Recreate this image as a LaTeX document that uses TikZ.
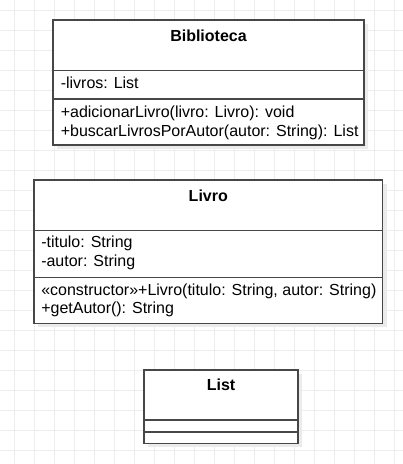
\documentclass[tikz,border=0pt]{standalone}
\usepackage{fontspec}
\setmainfont{Liberation Sans}
\begin{document}
\begin{tikzpicture}[x=0.75pt,y=-0.75pt,
  gridline/.style={draw=black!7,line width=0.75pt},
  classbox/.style={draw=black!72,line width=1pt,fill=white},
  sepline/.style={draw=black!72,line width=1pt},
  shadowbox/.style={fill=black!8},
  title/.style={anchor=base,inner sep=0pt,font=\fontsize{12}{14}\selectfont\bfseries},
  member/.style={anchor=base west,inner sep=0pt,font=\fontsize{12}{14}\selectfont}]
\useasboundingbox (0,0) rectangle (403,464);
\fill[white] (0,0) rectangle (403,464);
\foreach \i in {0,...,19} {\draw[gridline] (14.5+20*\i,0) -- (14.5+20*\i,464);}
\foreach \j in {0,...,22} {\draw[gridline] (0,10.5+20*\j) -- (403,10.5+20*\j);}
% Biblioteca
\fill[shadowbox] (57,24) rectangle (368,149);
\draw[classbox] (53,20) rectangle (364,145);
\draw[sepline] (53,70.7) -- (364,70.7);
\draw[sepline] (53,99) -- (364,99);
\node[title] (bibt) at (208.5,41.7) {Biblioteca};
\node[member] (bib1) at (60.5,88.3) {-livros: List};
\node[member] (bib2) at (60.5,117.3) {+adicionarLivro(livro: Livro): void};
\node[member] (bib3) at (60.5,136) {+buscarLivrosPorAutor(autor: String): List};
% Livro
\fill[shadowbox] (38,184) rectangle (386.5,327.3);
\draw[classbox] (34,180) rectangle (382.5,323.3);
\draw[sepline] (34,230.7) -- (382.5,230.7);
\draw[sepline] (34,277.7) -- (382.5,277.7);
\node[title] (livt) at (208.3,201.7) {Livro};
\node[member] (liv1) at (41,247.7) {-titulo: String};
\node[member] (liv2) at (41,266) {-autor: String};
\node[member] (liv3) at (41,295) {«constructor»+Livro(titulo: String, autor: String)};
\node[member] (liv4) at (41,313.3) {+getAutor(): String};
% List
\fill[shadowbox] (148,374) rectangle (302,447.3);
\draw[classbox] (144,370) rectangle (298,443.3);
\draw[sepline] (144,420) -- (298,420);
\draw[sepline] (144,432) -- (298,432);
\node[title] (listt) at (221,390.7) {List};
\end{tikzpicture}
\end{document}
